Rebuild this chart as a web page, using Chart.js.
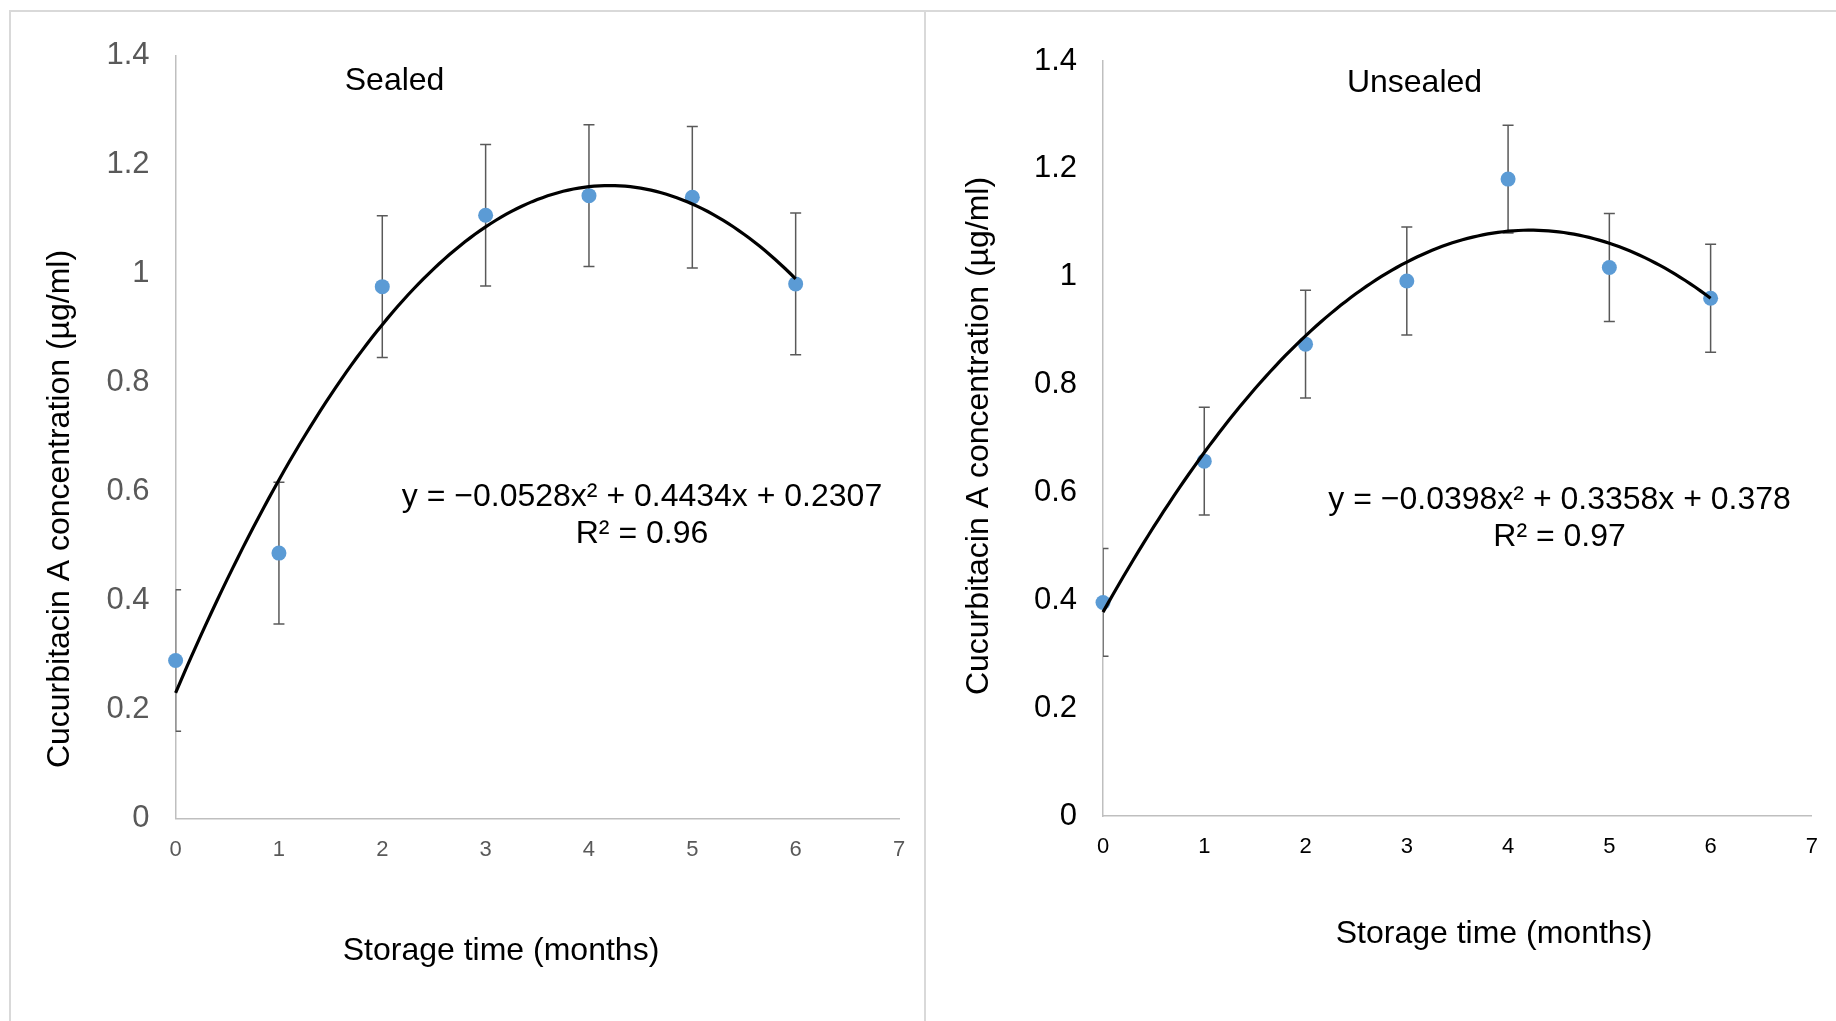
<!DOCTYPE html>
<html>
<head>
<meta charset="utf-8">
<script src="https://cdn.jsdelivr.net/npm/chart.js@4.4.1/dist/chart.umd.min.js"></script>
<style>
  html, body { margin: 0; padding: 0; background: #fff; }
  body { width: 1836px; height: 1021px; position: relative; overflow: hidden; }
  .rule { position: absolute; background: #d9d9d9; }
  canvas { position: absolute; }
</style>
</head>
<body>
<div class="rule" style="left:9px; top:10px; width:1827px; height:2px;"></div>
<div class="rule" style="left:9px; top:10px; width:2px; height:1011px;"></div>
<div class="rule" style="left:924px; top:10px; width:2px; height:1011px;"></div>
<canvas id="sealedChart" width="914" height="1010" style="left:10px; top:11px;"></canvas>
<canvas id="unsealedChart" width="909" height="1010" style="left:927px; top:11px;"></canvas>
<script>
const months = [0, 1, 2, 3, 4, 5, 6];
const xTicks = ['0', '1', '2', '3', '4', '5', '6', '7'];
const yTicks = ['0', '0.2', '0.4', '0.6', '0.8', '1', '1.2', '1.4'];

const sealedMean = [0.29, 0.487, 0.976, 1.107, 1.143, 1.14, 0.981];
const sealedErr = [0.13, 0.13, 0.13, 0.13, 0.13, 0.13, 0.13];
const sealedFit = [-0.0528, 0.4434, 0.2307];
const sealedR2 = 0.96;

const unsealedMean = [0.396, 0.658, 0.875, 0.992, 1.181, 1.017, 0.96];
const unsealedErr = [0.1, 0.1, 0.1, 0.1, 0.1, 0.1, 0.1];
const unsealedFit = [-0.0398, 0.3358, 0.378];
const unsealedR2 = 0.97;

const FONT = "'Liberation Sans', Arial, sans-serif";
const Y_TITLE = 'Cucurbitacin A concentration (µg/ml)';
const X_TITLE = 'Storage time (months)';

// sample the quadratic trendline over the measured range
function trendPoints(c) {
  const pts = [];
  for (let i = 0; i <= 120; i++) {
    const x = i * 0.05;
    pts.push({ x, y: c[0] * x * x + c[1] * x + c[2] });
  }
  return pts;
}

function equation(c) {
  return 'y = ' + String(c[0]).replace('-', '\u2212') + 'x\u00B2 + ' + c[1] + 'x + ' + c[2];
}

// vertical error bars with caps, drawn under the markers
const errorBars = {
  id: 'errorBars',
  beforeDatasetsDraw(chart, args, opts) {
    const { ctx, chartArea, scales: { x, y } } = chart;
    ctx.save();
    ctx.beginPath();
    ctx.rect(chartArea.left, chartArea.top, chartArea.width, chartArea.height);
    ctx.clip();
    ctx.strokeStyle = '#595959';
    ctx.lineWidth = 1.5;
    opts.xs.forEach((xv, i) => {
      const px = x.getPixelForValue(xv);
      const top = y.getPixelForValue(opts.ys[i] + opts.err[i]);
      const bot = y.getPixelForValue(opts.ys[i] - opts.err[i]);
      ctx.beginPath();
      ctx.moveTo(px, top); ctx.lineTo(px, bot);
      ctx.moveTo(px - 5.5, top); ctx.lineTo(px + 5.5, top);
      ctx.moveTo(px - 5.5, bot); ctx.lineTo(px + 5.5, bot);
      ctx.stroke();
    });
    ctx.restore();
  }
};

// panel caption, fit equation and axis titles
const panelText = {
  id: 'panelText',
  afterDraw(chart, args, opts) {
    const ctx = chart.ctx;
    ctx.save();
    ctx.fillStyle = '#000';
    ctx.textAlign = 'center';
    ctx.textBaseline = 'middle';
    ctx.font = '32px ' + FONT;
    ctx.fillText(opts.title, opts.titleAt[0], opts.titleAt[1]);
    ctx.fillText(opts.eq, opts.eqAt[0], opts.eqAt[1]);
    ctx.fillText(opts.r2, opts.eqAt[0], opts.eqAt[1] + 37);
    ctx.fillText(X_TITLE, opts.xTitleAt[0], opts.xTitleAt[1]);
    ctx.translate(opts.yTitleAt[0], opts.yTitleAt[1]);
    ctx.rotate(-Math.PI / 2);
    ctx.fillText(Y_TITLE, 0, 0);
    ctx.restore();
  }
};

function makeChart(id, cfg) {
  const canvas = document.getElementById(id);
  const area = cfg.area; // [left, top, right, bottom] of the plot inside the canvas
  return new Chart(canvas, {
    type: 'scatter',
    data: {
      datasets: [
        {
          data: trendPoints(cfg.fit),
          showLine: true,
          borderColor: '#000',
          borderWidth: 3.2,
          pointRadius: 0,
          tension: 0,
          order: 0,
          clip: false,
        },
        {
          data: months.map((m, i) => ({ x: m, y: cfg.mean[i] })),
          backgroundColor: '#5B9BD5',
          borderWidth: 0,
          pointRadius: 7.5,
          order: 1,
          clip: false,
        },
      ],
    },
    options: {
      responsive: false,
      animation: false,
      layout: { padding: { left: 0, top: area[1], right: canvas.width - area[2], bottom: 0 } },
      plugins: {
        legend: { display: false },
        tooltip: { enabled: false },
        errorBars: { xs: months, ys: cfg.mean, err: cfg.err },
        panelText: cfg.text,
      },
      scales: {
        x: {
          type: 'linear',
          min: 0,
          max: 7,
          grid: { display: false, drawTicks: false },
          border: { color: '#bfbfbf', width: 1.5 },
          ticks: {
            stepSize: 1,
            padding: 18,
            color: cfg.tickColor,
            font: { family: FONT, size: 22 },
            callback: (v) => xTicks[v],
          },
          afterFit: (s) => { s.height = canvas.height - area[3]; },
        },
        y: {
          min: 0,
          max: 1.4,
          grid: { display: false, drawTicks: false },
          border: { color: '#bfbfbf', width: 1.5 },
          ticks: {
            stepSize: 0.2,
            padding: 26,
            color: cfg.tickColor,
            font: { family: FONT, size: 31 },
            callback: (v) => yTicks[Math.round(v / 0.2)],
          },
          afterFit: (s) => { s.width = area[0]; },
        },
      },
    },
    plugins: [errorBars, panelText],
  });
}

makeChart('sealedChart', {
  mean: sealedMean,
  err: sealedErr,
  fit: sealedFit,
  tickColor: '#595959',
  area: [165.6, 43, 889, 807.5],
  text: {
    title: 'Sealed',
    titleAt: [384.6, 70.5],
    eq: equation(sealedFit),
    r2: 'R\u00B2 = ' + sealedR2,
    eqAt: [632, 486.5],
    xTitleAt: [491, 940],
    yTitleAt: [50, 498],
  },
});

makeChart('unsealedChart', {
  mean: unsealedMean,
  err: unsealedErr,
  fit: unsealedFit,
  tickColor: '#000',
  area: [176, 50, 888, 805],
  text: {
    title: 'Unsealed',
    titleAt: [487.5, 72],
    eq: equation(unsealedFit),
    r2: 'R\u00B2 = ' + unsealedR2,
    eqAt: [632.6, 489.5],
    xTitleAt: [567, 923.4],
    yTitleAt: [52, 425],
  },
});
</script>
</body>
</html>
